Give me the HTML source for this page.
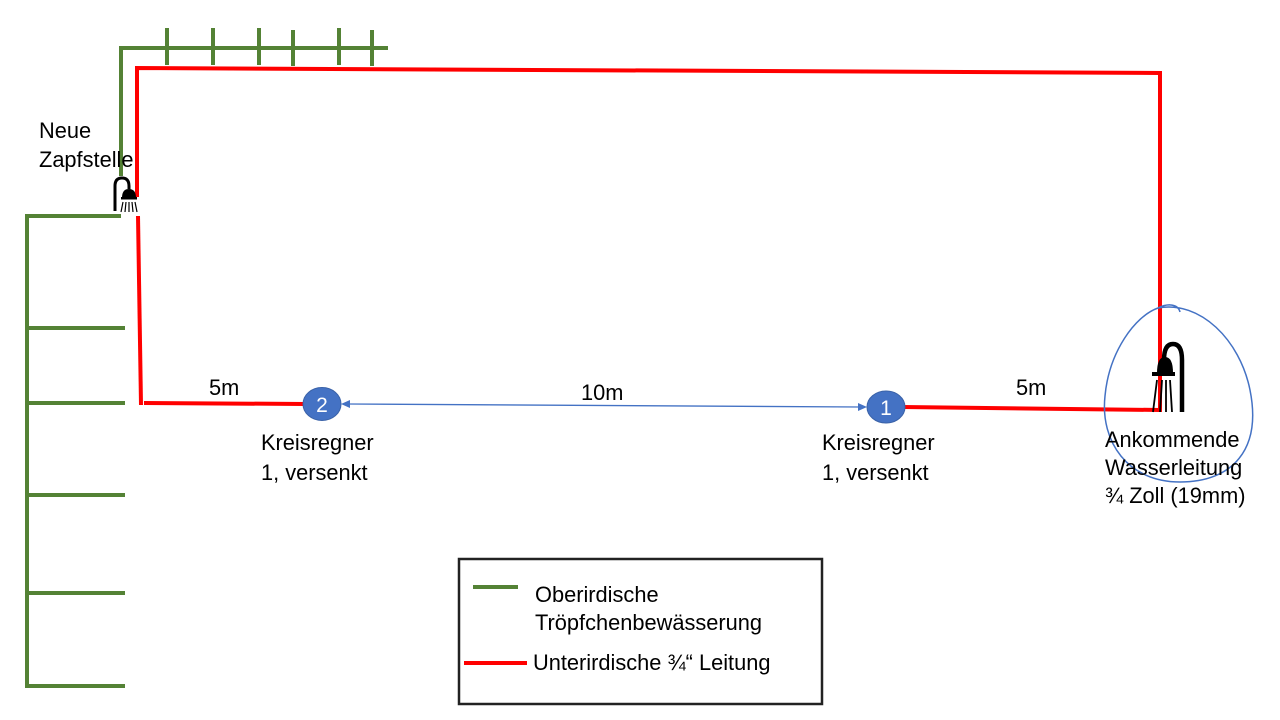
<!DOCTYPE html>
<html><head><meta charset="utf-8"><style>
html,body{margin:0;padding:0;background:#fff;}
svg{display:block;}
text{font-family:"Liberation Sans",sans-serif;font-size:21.8px;fill:#000;}
</style></head><body>
<svg width="1280" height="720" viewBox="0 0 1280 720" xmlns="http://www.w3.org/2000/svg">
<rect width="1280" height="720" fill="#fff"/>
<!-- green top -->
<g stroke="#548235" stroke-width="4" fill="none">
<path d="M121,176 L121,48 L388,48"/>
<path d="M167,28 V65 M213,28 V65 M259,28 V65 M293,30 V66 M339,28 V65 M372,30 V66"/>
<!-- green left -->
<path d="M121,216 L27,216 L27,688"/>
<path d="M27,328 H125 M27,403 H125 M27,495 H125 M27,593 H125 M27,686 H125"/>
</g>
<!-- red lines -->
<g stroke="#ff0000" stroke-width="4" fill="none">
<path d="M137,197 L137,68 L1160,73 L1160,412"/>
<path d="M138,216 L141,405"/>
<path d="M144,403 L305,404"/>
<path d="M903,407 L1160,410"/>
</g>
<!-- blue dimension arrow -->
<g stroke="#4472c4" stroke-width="1.3" fill="#4472c4">
<line x1="348" y1="404" x2="860" y2="407"/>
<path d="M341,404 L350,400 L350,408 Z" stroke="none"/>
<path d="M867,407 L858,403 L858,411 Z" stroke="none"/>
</g>
<!-- sprinkler circles -->
<ellipse cx="322" cy="404" rx="19" ry="16.5" fill="#4472c4" stroke="#3a62a8" stroke-width="1"/>
<text x="322" y="412" text-anchor="middle" style="fill:#fff;font-size:21px">2</text>
<ellipse cx="886" cy="407" rx="19" ry="16" fill="#4472c4" stroke="#3a62a8" stroke-width="1"/>
<text x="886" y="415" text-anchor="middle" style="fill:#fff;font-size:21px">1</text>
<!-- left shower icon -->
<g>
<path d="M115,211 L115,186 Q115,178 122,178 Q129,178 129,186 L129,189" stroke="#000" stroke-width="3" fill="none"/>
<path d="M122,198 Q122,189 129,189 Q136,189 136,198 Z" fill="#000"/>
<rect x="121" y="197" width="16" height="2.5" fill="#000"/>
<g stroke="#000" stroke-width="1.2">
<line x1="123" y1="202" x2="121" y2="212"/>
<line x1="126" y1="202" x2="125" y2="212"/>
<line x1="129" y1="202" x2="129" y2="212"/>
<line x1="132" y1="202" x2="133" y2="212"/>
<line x1="135" y1="202" x2="137" y2="212"/>
</g>
</g>
<!-- right shower icon -->
<g>
<path d="M1182,412 L1182,360 Q1182,344 1173,344 Q1164,344 1164,360" stroke="#000" stroke-width="4.5" fill="none"/>
<path d="M1157,373 Q1157,357 1165,357 Q1173,357 1173,373 Z" fill="#000"/>
<rect x="1152" y="372" width="23" height="4" fill="#000"/>
<g stroke="#000" stroke-width="1.8">
<line x1="1157" y1="380" x2="1153" y2="412"/>
<line x1="1162" y1="380" x2="1160" y2="412"/>
<line x1="1166" y1="380" x2="1166" y2="412"/>
<line x1="1170" y1="380" x2="1172" y2="412"/>
</g>
</g>
<!-- hand drawn blue loop -->
<path d="M1158,308 C1200,300 1240,340 1250,390 C1262,450 1232,482 1180,482 C1128,482 1100,442 1105,396 C1109,352 1135,316 1158,308 C1168,303 1178,304 1180,312" stroke="#4472c4" stroke-width="1.5" fill="none"/>
<!-- labels -->
<text x="39" y="138">Neue</text>
<text x="39" y="167">Zapfstelle</text>
<text x="209" y="395">5m</text>
<text x="581" y="400">10m</text>
<text x="1016" y="395">5m</text>
<text x="261" y="450">Kreisregner</text>
<text x="261" y="480">1, versenkt</text>
<text x="822" y="450">Kreisregner</text>
<text x="822" y="480">1, versenkt</text>
<text x="1105" y="447">Ankommende</text>
<text x="1105" y="475">Wasserleitung</text>
<text x="1105" y="503">¾ Zoll (19mm)</text>
<!-- legend -->
<rect x="459" y="559" width="363" height="145" fill="none" stroke="#222" stroke-width="2.5"/>
<line x1="473" y1="587" x2="518" y2="587" stroke="#548235" stroke-width="4"/>
<line x1="464" y1="663" x2="527" y2="663" stroke="#ff0000" stroke-width="4"/>
<text x="535" y="602">Oberirdische</text>
<text x="535" y="630">Tröpfchenbewässerung</text>
<text x="533" y="670">Unterirdische ¾“ Leitung</text>
</svg>
</body></html>
